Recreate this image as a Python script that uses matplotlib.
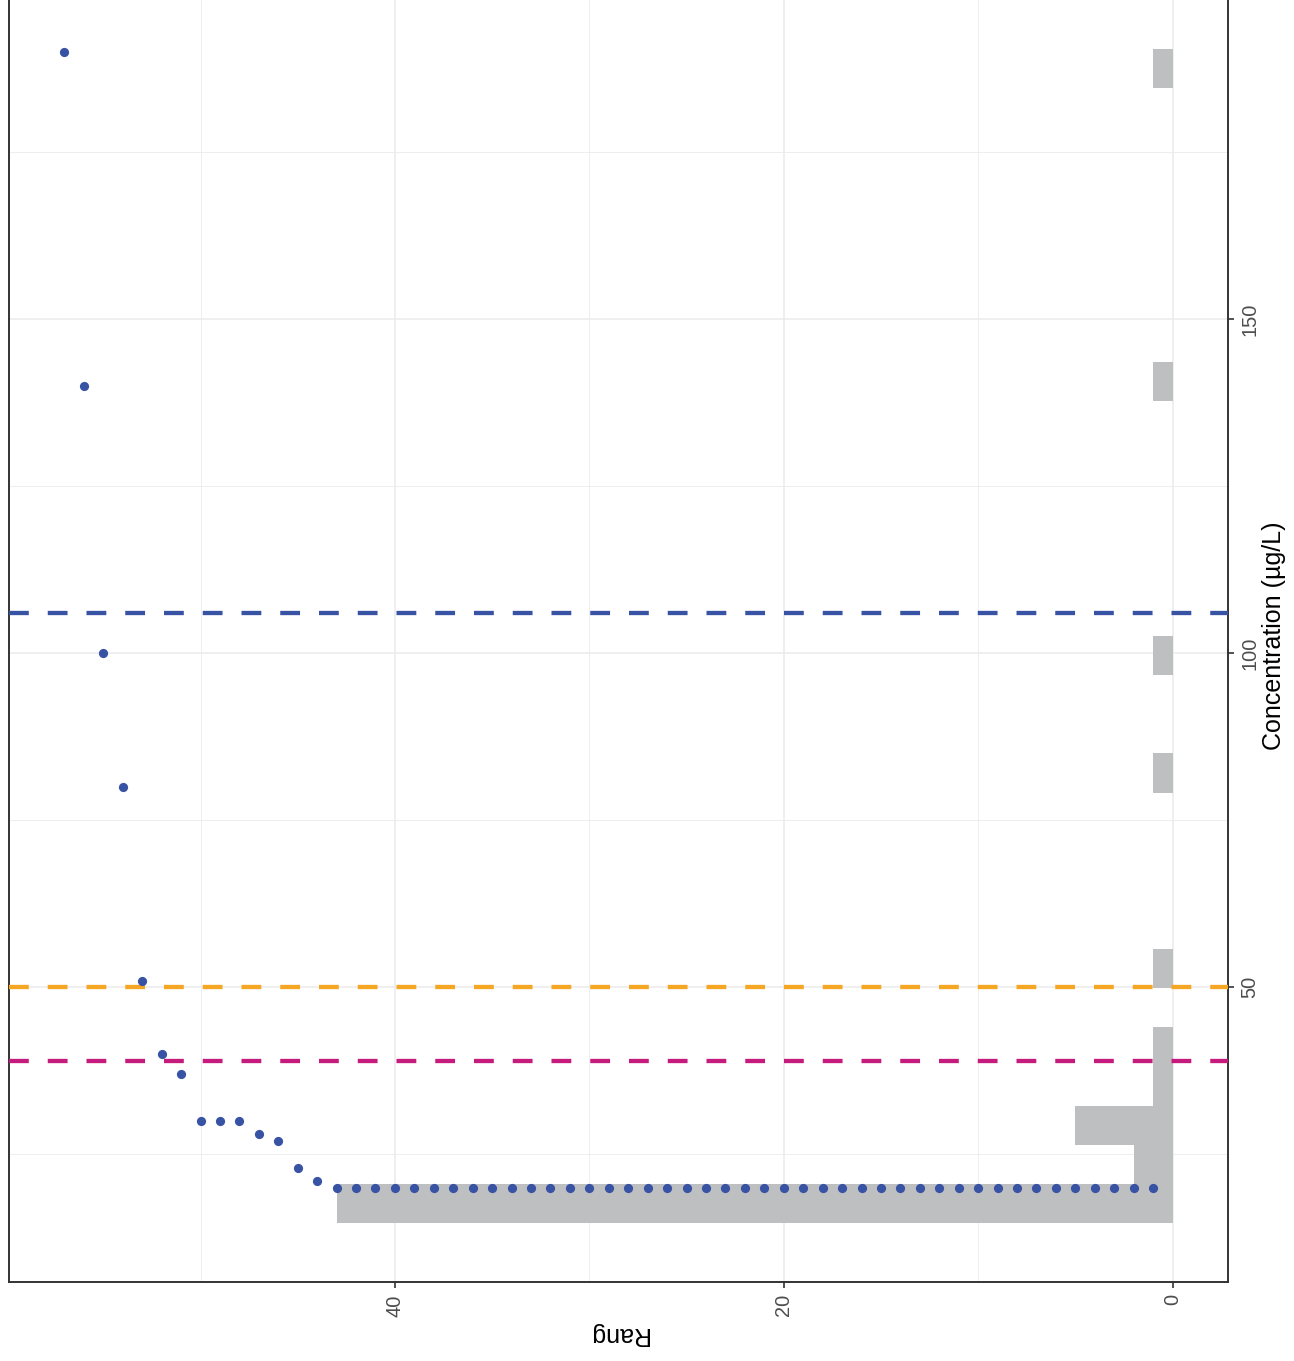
import numpy as np
import matplotlib
matplotlib.use("Agg")
import matplotlib.pyplot as plt
from matplotlib.ticker import FixedLocator

plt.rcParams['font.family'] = ['Liberation Sans', 'DejaVu Sans']

# concentrations triees (ug/L), une par rang
concentration = [20] * 43 + [21, 23, 27, 28, 30, 30, 30, 37, 40, 51, 80, 100, 140, 190]
rang = np.arange(1, len(concentration) + 1)

# seuils (lignes pointillees)
seuils = [39, 50, 106]
couleurs_seuils = ["#C51B7D", "#F5A623", "#3953A4"]

BLEU = "#3953A4"
GRIS = "#BEBFC1"

W, H = 1294, 1361
fig = plt.figure(figsize=(W / 100, H / 100), dpi=100)
ax = fig.add_axes([9 / W, (H - 1282) / H, (1228 - 9) / W, 1282 / H])

# histogramme facon ggplot (bins = 30)
c = np.array(concentration, dtype=float)
largeur = (c.max() - c.min()) / 29
bord = largeur / 2
origine = bord + np.floor((c.min() - bord) / largeur) * largeur
bornes = origine + largeur * np.arange(0, 32)
bornes = bornes[bornes <= c.max() + largeur]
comptes, bornes = np.histogram(c, bins=bornes)
ax.barh(bornes[:-1], comptes, height=np.diff(bornes), align='edge',
        color=GRIS, linewidth=0, zorder=2)

for s, col in zip(seuils, couleurs_seuils):
    ax.axhline(s, color=col, lw=3.1, dashes=(4.6, 4.4), zorder=3)

ax.scatter(rang, concentration, s=44, color=BLEU, linewidths=0, zorder=4)

ax.set_xlim(59.85, -2.85)
ax.set_ylim(5.86, 197.8)

ax.xaxis.set_major_locator(FixedLocator([0, 20, 40]))
ax.xaxis.set_minor_locator(FixedLocator([10, 30, 50]))
ax.yaxis.set_major_locator(FixedLocator([50, 100, 150]))
ax.yaxis.set_minor_locator(FixedLocator([25, 75, 125, 175]))
ax.yaxis.tick_right()

ax.grid(which='major', color="#EBEBEB", lw=1.1, zorder=0)
ax.grid(which='minor', color="#EBEBEB", lw=0.6, zorder=0)
ax.set_axisbelow(True)

ax.tick_params(which='major', length=4.3, width=1.2, color="#333333",
               labelsize=14.4, labelcolor="#4D4D4D", pad=4.5)
ax.tick_params(which='minor', length=0)
ax.tick_params(axis='x', labelrotation=90)
ax.tick_params(axis='y', labelrotation=90)
for lab in ax.get_yticklabels():
    lab.set_va('center')

for cote in ['left', 'bottom', 'right']:
    ax.spines[cote].set_color("#333333")
    ax.spines[cote].set_linewidth(1.4)
ax.spines['top'].set_visible(False)

fig.text(1274 / W, 1 - 636 / H, "Concentration (µg/L)", rotation=90,
         ha='center', va='center', fontsize=18)
fig.text(618 / W, 1 - 1334 / H, "Rang", rotation=180,
         ha='center', va='center', fontsize=18)

fig.savefig("out.png", dpi=100)
